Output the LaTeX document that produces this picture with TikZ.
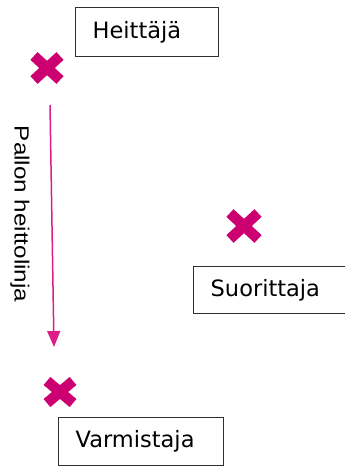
\documentclass[tikz,border=0pt]{standalone}
\usepackage{fontspec}
\setmainfont{DejaVu Sans}
\newfontfamily\labelfont{Liberation Sans}
\usetikzlibrary{arrows.meta}
\definecolor{markpink}{HTML}{CC0070}
\definecolor{linepink}{HTML}{DC1E8A}
\definecolor{boxline}{HTML}{303030}
\tikzset{
  rolebox/.style={draw=boxline, line width=1.4pt, fill=white, anchor=north west,
    inner xsep=17pt, inner ysep=0pt, align=left,
    font=\fontsize{22.5}{26}\selectfont},
  playermark/.pic={
    \draw[markpink, line width=10.5pt] (-13,-12) -- (13,12) (-13,12) -- (13,-12);
  },
  throwline/.style={linepink, line width=1.5pt,
    -{Triangle[length=16pt, width=13pt]}},
}
\begin{document}
\begin{tikzpicture}[x=1pt, y=-1pt]
  \useasboundingbox (0,0) rectangle (345,466);

  % player positions
  \coordinate (thrower) at (47,68);
  \coordinate (batter) at (244,226);
  \coordinate (catcher) at (60,392);
  \pic at (thrower) {playermark};
  \pic[scale=1.08] at (batter) {playermark};
  \pic[yscale=0.92] at (catcher) {playermark};

  % role labels
  \node[rolebox, minimum height=49pt, text width=109pt] (heittaja) at (75,7) {Heittäjä};
  \node[rolebox, minimum height=47pt, text width=130pt] (suorittaja) at (193,266) {Suorittaja};
  \node[rolebox, minimum height=48pt, text width=131pt] (varmistaja) at (58,417) {Varmistaja};

  % line of the throw
  \coordinate (throwstart) at (50,105);
  \coordinate (throwend) at (54,347);
  \draw[throwline] (throwstart) -- (throwend);
  \node[rotate=-90, inner sep=0pt, font=\labelfont\fontsize{20.5}{24}\selectfont]
    (throwlabel) at (20,214) {\scalebox{1.18}[1]{Pallon heittolinja}};
\end{tikzpicture}
\end{document}
